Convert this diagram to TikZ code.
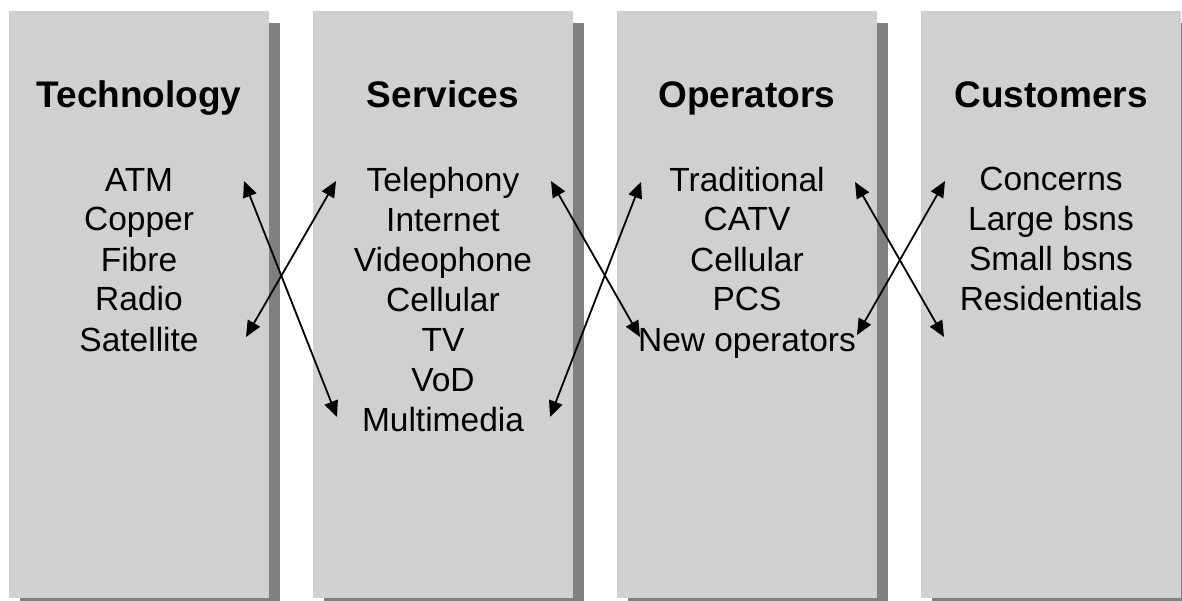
\documentclass[tikz,border=0pt]{standalone}
\usepackage{fontspec}
\setmainfont{Liberation Sans}
\usepackage{xcolor}
\usetikzlibrary{arrows.meta}

\definecolor{panelgray}{HTML}{D0D0D0}
\definecolor{shadowgray}{HTML}{808080}

\begin{document}
\begin{tikzpicture}[x=1pt,y=-1pt,
  panel/.style={fill=panelgray,draw=none},
  shade/.style={fill=shadowgray,draw=none},
  title/.style={font=\fontsize{37}{44}\bfseries\selectfont,anchor=base,inner sep=0pt},
  items/.style={font=\fontsize{33.5}{40}\selectfont,align=center,anchor=base,inner sep=0pt},
  link/.style={{Triangle[length=16pt,width=14pt]}-{Triangle[length=16pt,width=14pt]},line width=1.8pt}
]
\useasboundingbox (0,0) rectangle (1182,601);
\fill[white] (0,0) rectangle (1182,601);

% shadows and panels
\fill[shade] (20,23) rectangle (280,610);
\fill[panel] (9,11) rectangle (269,598);
\fill[shade] (324,23) rectangle (584,610);
\fill[panel] (313,11) rectangle (573,598);
\fill[shade] (628,23) rectangle (888,610);
\fill[panel] (617,11) rectangle (877,598);
\fill[shade] (932,23) rectangle (1192,610);
\fill[panel] (921,11) rectangle (1181,598);

\node[title] (tech) at (139,108) {Technology};
\node[title] (serv) at (443,108) {Services};
\node[title] (oper) at (747,108) {Operators};
\node[title] (cust) at (1051,108) {Customers};

% base of a list is the base of its last line
\node[items] (techlist) at (139,351) {ATM\\Copper\\Fibre\\Radio\\Satellite};
\node[items] (servlist) at (443,431) {Telephony\\Internet\\Videophone\\Cellular\\TV\\VoD\\Multimedia};
\node[items] (operlist) at (747,351) {Traditional\\CATV\\Cellular\\PCS\\New operators};
\node[items] (custlist) at (1051,311) {Concerns\\Large bsns\\Small bsns\\Residentials};

\coordinate (atm) at (244,181);
\coordinate (sat) at (246,337);
\coordinate (tel) at (336,181);
\coordinate (mult) at (337,417);
\coordinate (telr) at (551,181);
\coordinate (multr) at (550,417);
\coordinate (trad) at (641,182);
\coordinate (newop) at (640,337);
\coordinate (tradr) at (855,182);
\coordinate (newopr) at (857,335);
\coordinate (conc) at (945,181);
\coordinate (resi) at (944,337);

\draw[link] (atm) -- (mult);
\draw[link] (tel) -- (sat);
\draw[link] (telr) -- (newop);
\draw[link] (trad) -- (multr);
\draw[link] (tradr) -- (resi);
\draw[link] (conc) -- (newopr);
\end{tikzpicture}
\end{document}
